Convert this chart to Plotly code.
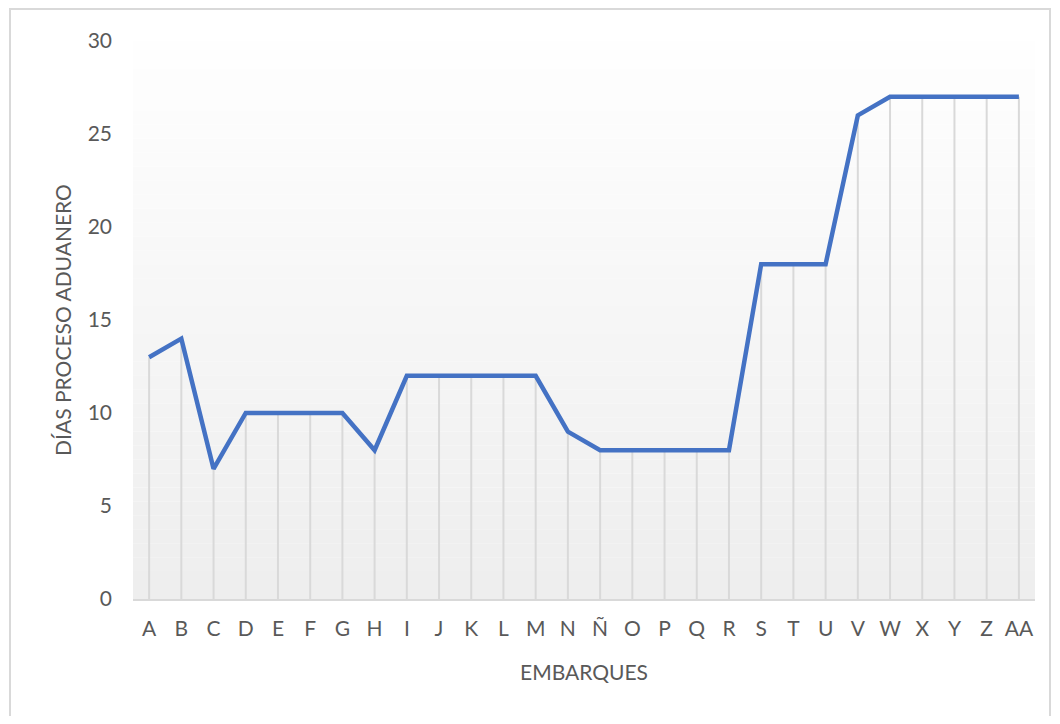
import plotly.graph_objects as go

# Datos del gráfico
embarques = ["A", "B", "C", "D", "E", "F", "G", "H", "I", "J", "K", "L", "M", "N",
             "Ñ", "O", "P", "Q", "R", "S", "T", "U", "V", "W", "X", "Y", "Z", "AA"]
dias = [13, 14, 7, 10, 10, 10, 10, 8, 12, 12, 12, 12, 12, 9,
        8, 8, 8, 8, 8, 18, 18, 18, 26, 27, 27, 27, 27, 27]
ticks_y = [0, 5, 10, 15, 20, 25, 30]

fig = go.Figure()

# Líneas verticales desde cada punto hasta el eje
fig.add_trace(go.Scatter(
    x=embarques, y=dias, mode="markers",
    marker=dict(size=1, color="rgba(0,0,0,0)"),
    error_y=dict(type="data", symmetric=False, array=[0] * len(dias), arrayminus=dias,
                 color="#d9d9d9", thickness=2, width=0),
    hoverinfo="skip", showlegend=False,
))

# Línea principal
fig.add_trace(go.Scatter(
    x=embarques, y=dias, mode="lines",
    line=dict(color="#4472c4", width=4.5),
    showlegend=False,
))

# Fondo degradado del área de trazado (blanco arriba, gris claro abajo)
n = 40
shapes = []
for i in range(n):
    t = (i + 0.5) / n
    c = int(255 - (255 - 238) * (1 - t))
    shapes.append(dict(type="rect", xref="paper", yref="paper",
                       x0=0, x1=1, y0=i / n, y1=(i + 1) / n,
                       fillcolor=f"rgb({c},{c},{c})", line=dict(width=0), layer="below"))

# Borde exterior
shapes.append(dict(type="rect", xref="paper", yref="paper",
                   x0=(10 - 133) / 902, x1=(1050 - 133) / 902,
                   y0=(599 - 719) / 558, y1=(599 - 9) / 558,
                   line=dict(color="#d9d9d9", width=2), fillcolor="rgba(0,0,0,0)"))

# la página añade 8px de margen, por eso el tamaño es algo menor
fig.update_layout(
    width=1044, height=708,
    margin=dict(l=125, r=17, t=33, b=117),
    paper_bgcolor="white", plot_bgcolor="white",
    font=dict(family="Lato", color="#595959", size=20),
    shapes=shapes,
    xaxis=dict(
        title=dict(text="EMBARQUES", font=dict(size=21, color="#595959"), standoff=26),
        type="category", range=[-0.5, len(embarques) - 0.5],
        showgrid=False, showline=True, linecolor="#d9d9d9", linewidth=2,
        ticks="", tickfont=dict(size=21, color="#595959"), ticklabelstandoff=10,
    ),
    yaxis=dict(
        title=dict(text="DÍAS PROCESO ADUANERO", font=dict(size=21, color="#595959"), standoff=10),
        range=[0, 30], tickvals=ticks_y, showgrid=False, zeroline=False,
        showline=False, ticks="", tickfont=dict(size=21, color="#595959"), ticklabelstandoff=20,
    ),
)

fig.write_html("out.html")
